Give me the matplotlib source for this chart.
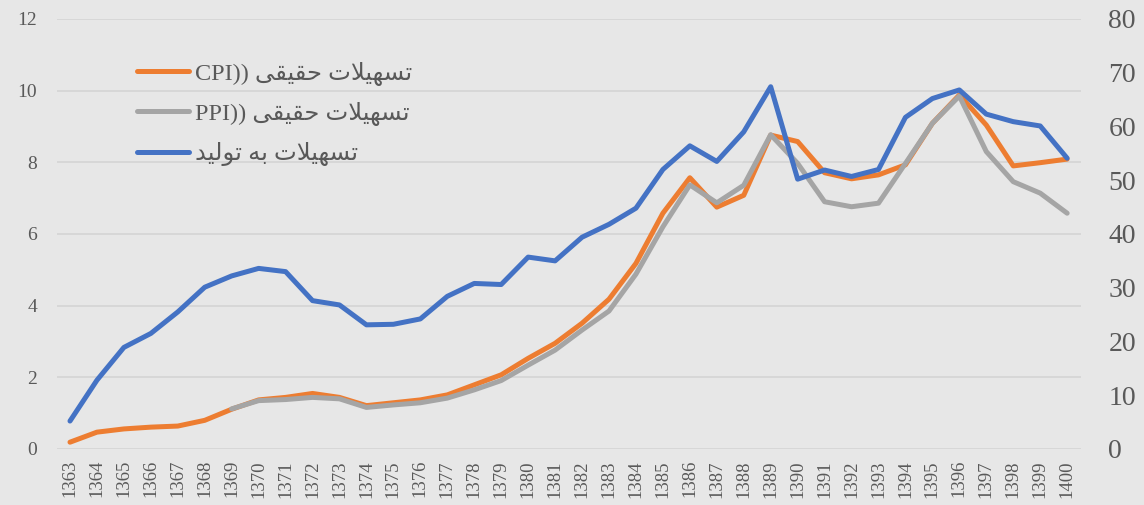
import numpy as np
import matplotlib
matplotlib.use('Agg')
import matplotlib.pyplot as plt

years = list(range(1363, 1401))

# real facilities deflated by CPI (left axis)
cpi_real = [0.19, 0.47, 0.56, 0.61, 0.64, 0.80, 1.11, 1.37, 1.44, 1.55,
            1.44, 1.21, 1.29, 1.37, 1.51, 1.79, 2.07, 2.53, 2.95, 3.51,
            4.18, 5.18, 6.58, 7.57, 6.75, 7.08, 8.76, 8.58, 7.71, 7.54,
            7.65, 7.93, 9.09, 9.88, 9.04, 7.90, 7.99, 8.09]

# real facilities deflated by PPI (left axis), starts in 1369
ppi_real = [np.nan] * 6 + [
            1.12, 1.35, 1.38, 1.44,
            1.40, 1.16, 1.23, 1.29, 1.42, 1.65, 1.91, 2.34, 2.76, 3.32,
            3.85, 4.88, 6.20, 7.37, 6.87, 7.36, 8.77, 7.97, 6.90, 6.76,
            6.86, 7.97, 9.09, 9.85, 8.30, 7.46, 7.14, 6.58]

# facilities to production (right axis)
fac_to_prod = [5.2, 12.8, 18.9, 21.5, 25.5, 30.1, 32.2, 33.6, 33.0, 27.6,
               26.8, 23.1, 23.2, 24.2, 28.4, 30.8, 30.6, 35.7, 35.0, 39.4,
               41.8, 44.8, 52.0, 56.4, 53.5, 59.0, 67.4, 50.2, 51.9, 50.7,
               52.0, 61.7, 65.2, 66.8, 62.3, 60.9, 60.1, 54.1]

left_ticks = [0, 2, 4, 6, 8, 10, 12]
right_ticks = [0, 10, 20, 30, 40, 50, 60, 70, 80]

# legend labels, pre-shaped (presentation forms) and in visual order
# since matplotlib does no arabic shaping / bidi
w_tashilat = '\uFE95\uFEFC\uFEF4\uFEEC\uFEB4\uFE97'   # تسهیلات
w_haghighi = '\uFEF0\uFED8\uFEF4\uFED8\uFEA3'         # حقیقی
w_be = '\uFEEA\uFE91'                                 # به
w_tolid = '\uFEAA\uFEF4\uFEDF\uFEEE\uFE97'            # تولید
labels = ['CPI)) ' + w_haghighi + ' ' + w_tashilat,
          'PPI)) ' + w_haghighi + ' ' + w_tashilat,
          w_tolid + ' ' + w_be + ' ' + w_tashilat]

bg = '#E7E7E7'
txt = '#595959'
colors = ['#ED7D31', '#A5A5A5', '#4472C4']

fig = plt.figure(figsize=(11.44, 5.05), dpi=100, facecolor=bg)
ax = fig.add_axes([0.0494, 0.1109, 0.8952, 0.8515])
ax.set_facecolor(bg)
ax2 = ax.twinx()

x = np.arange(len(years))
lw = 3.6
l1, = ax.plot(x, cpi_real, color=colors[0], lw=lw, solid_capstyle='round', solid_joinstyle='round')
l2, = ax.plot(x, ppi_real, color=colors[1], lw=lw, solid_capstyle='round', solid_joinstyle='round')
l3, = ax2.plot(x, fac_to_prod, color=colors[2], lw=lw, solid_capstyle='round', solid_joinstyle='round')

ax.set_xlim(-0.5, len(years) - 0.5)
ax.set_ylim(0, 12)
ax2.set_ylim(0, 80)
ax.set_yticks(left_ticks)
ax2.set_yticks(right_ticks)
ax.set_xticks(x)
ax.set_xticklabels([str(y) for y in years], rotation=90)

ax.yaxis.grid(True, color='#D6D6D6', lw=1.3)
ax.set_axisbelow(True)
for a in (ax, ax2):
    for s in a.spines.values():
        s.set_visible(False)

serif = 'Liberation Serif'
ax.tick_params(axis='y', length=0, pad=14, labelsize=14, labelcolor=txt)
ax.tick_params(axis='x', length=0, pad=8, labelsize=13.5, labelcolor=txt)
ax2.tick_params(axis='y', length=0, pad=20, labelsize=20, labelcolor=txt)
for lab in ax.get_xticklabels() + ax.get_yticklabels() + ax2.get_yticklabels():
    lab.set_fontfamily(serif)

leg = ax2.legend([l1, l2, l3], labels, loc='upper left', bbox_to_anchor=(0.057, 0.951),
                 frameon=False, handlelength=2.15, handletextpad=0.25, labelspacing=0.66,
                 prop={'family': [serif, 'DejaVu Sans'], 'size': 17.5})
for t in leg.get_texts():
    t.set_color(txt)

fig.savefig('out.png', dpi=100, facecolor=bg)
